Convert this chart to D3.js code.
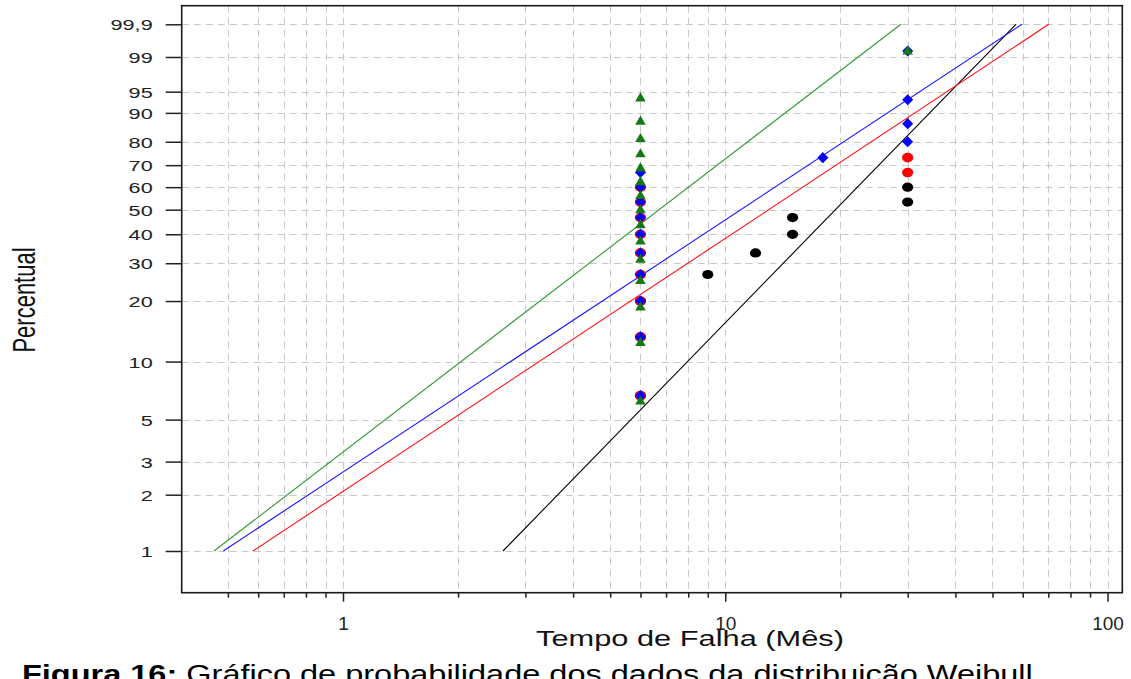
<!DOCTYPE html>
<html>
<head>
<meta charset="utf-8">
<script src="https://cdn.jsdelivr.net/npm/d3@7"></script>
<style>
  html, body { margin: 0; padding: 0; background: #fff; overflow: hidden; }
  svg { display: block; font-family: "Liberation Sans", Arial, sans-serif; }
</style>
</head>
<body>
<svg id="chart" width="1131" height="679"></svg>
<script>
// ---------------- data ----------------
const xTickValues = [0.5,0.6,0.7,0.8,0.9,1,2,3,4,5,6,7,8,9,10,20,30,40,50,60,70,80,90,100];
const xMajorTicks = [1, 10, 100];
const xTickLabels = ["1", "10", "100"];
const yTickValues = [1,2,3,5,10,20,30,40,50,60,70,80,90,95,99,99.9];
const yTickLabels = ["1","2","3","5","10","20","30","40","50","60","70","80","90","95","99","99,9"];

// black series (circles)
const blackTimes = [6, 6, 6, 9, 12, 15, 15, 30, 30];
const blackPct   = [6.67, 13.33, 20, 26.67, 33.33, 40, 46.67, 53.33, 60];
// red series (circles)
const redTimes = [6, 6, 6, 6, 6, 6, 6, 6, 6, 30, 30];
const redPct   = [6.67, 13.33, 20, 26.67, 33.33, 40, 46.67, 53.33, 60, 66.67, 73.33];
// blue series (diamonds)
const blueTimes = [6, 6, 6, 6, 6, 6, 6, 6, 6, 6, 18, 30, 30, 30, 30];
const bluePct   = [6.67, 13.33, 20, 26.67, 33.33, 40, 46.67, 53.33, 60, 66.67, 73.33, 80, 86.67, 93.33, 99.3];
// green series (triangles)
const greenTimes = [6, 6, 6, 6, 6, 6, 6, 6, 6, 6, 6, 6, 6, 6, 6, 30];
const greenPct   = [6.25, 12.5, 18.75, 25, 31.25, 37.5, 43.75, 50, 56.25, 62.5, 68.75, 75, 81.25, 87.5, 93.75, 99.3];

// fitted lines: time at start and end, percentile at start and end
const linePct = [1, 99.9];
const greenLineTimes = [0.4598, 28.8];
const blueLineTimes  = [0.4862, 59.7];
const redLineTimes   = [0.5814, 70.2];
const blackLineTimes = [2.622, 57.6];

// ---------------- layout ----------------
const svg = d3.select("#chart");
const L = 181.7, R = 1122.3, T = 5.7, B = 592.7;
const weib = p => Math.log(-Math.log(1 - p / 100));

const x = d3.scaleLog().domain([0.3785, 109.3]).range([L, R]);
const y = d3.scaleLinear().domain([2.1634, -5.1174]).range([T, B]);

// grid
const grid = svg.append("g").attr("stroke", "#c8c8c8").attr("stroke-width", 1)
  .attr("stroke-dasharray", "7,5").attr("fill", "none");
grid.selectAll("line.v").data(xTickValues).join("line")
  .attr("x1", d => Math.round(x(d)) + 0.5).attr("x2", d => Math.round(x(d)) + 0.5)
  .attr("y1", T).attr("y2", B);
grid.selectAll("line.h").data(yTickValues).join("line")
  .attr("y1", d => Math.round(y(weib(d))) + 0.5).attr("y2", d => Math.round(y(weib(d))) + 0.5)
  .attr("x1", L).attr("x2", R);

// axes
const yAxis = d3.axisLeft(y)
  .tickValues(yTickValues.map(weib))
  .tickFormat((d, i) => yTickLabels[i])
  .tickSize(16).tickSizeOuter(0);
const gy = svg.append("g").attr("transform", `translate(${L},0)`).call(yAxis);
gy.select(".domain").remove();
gy.selectAll(".tick line").attr("stroke", "#222").attr("stroke-width", 1.5);
gy.selectAll(".tick text")
  .attr("x", 0).attr("dy", "0.36em")
  .attr("transform", "translate(-29,0) scale(1.4,1)")
  .attr("fill", "#222").style("font-size", "15.5px")
  .style("font-family", "'Liberation Sans', Arial, sans-serif");

const xAxis = d3.axisBottom(x)
  .tickValues(xTickValues)
  .tickFormat(d => { const i = xMajorTicks.indexOf(d); return i >= 0 ? xTickLabels[i] : ""; })
  .tickSize(5).tickSizeOuter(0);
const gx = svg.append("g").attr("transform", `translate(0,${B})`).call(xAxis);
gx.select(".domain").remove();
gx.selectAll(".tick line").attr("stroke", "#222").attr("stroke-width", 1.5)
  .attr("y2", d => xMajorTicks.includes(d) ? 9 : 5);
gx.selectAll(".tick text")
  .attr("y", 0).attr("dy", null)
  .attr("transform", "translate(0,37)")
  .attr("fill", "#222").style("font-size", "19px")
  .style("font-family", "'Liberation Sans', Arial, sans-serif");

// frame
svg.append("rect").attr("x", L).attr("y", T).attr("width", R - L).attr("height", B - T)
  .attr("fill", "none").attr("stroke", "#1a1a1a").attr("stroke-width", 1.6);

// fitted lines
const lineGen = d3.line().x(d => x(d[0])).y(d => y(weib(d[1])));
const lines = [
  {t: blackLineTimes, c: "#000000"},
  {t: redLineTimes, c: "#ff1010"},
  {t: blueLineTimes, c: "#1414ff"},
  {t: greenLineTimes, c: "#2f9a2f"}
];
lines.forEach(s => {
  svg.append("path").datum(s.t.map((t, i) => [t, linePct[i]]))
    .attr("d", lineGen).attr("fill", "none").attr("stroke", s.c).attr("stroke-width", 1.1);
});

// points
function pts(times, pct) { return times.map((t, i) => [t, pct[i]]); }
svg.append("g").selectAll("ellipse").data(pts(blackTimes, blackPct)).join("ellipse")
  .attr("cx", d => x(d[0])).attr("cy", d => y(weib(d[1])))
  .attr("rx", 5.6).attr("ry", 4.6).attr("fill", "#000");
svg.append("g").selectAll("ellipse").data(pts(redTimes, redPct)).join("ellipse")
  .attr("cx", d => x(d[0])).attr("cy", d => y(weib(d[1])))
  .attr("rx", 5.6).attr("ry", 4.8).attr("fill", "#ff0000");
const diamond = d3.symbol().type(d3.symbolDiamond2).size(78);
svg.append("g").selectAll("path").data(pts(blueTimes, bluePct)).join("path")
  .attr("transform", d => `translate(${x(d[0])},${y(weib(d[1]))})`)
  .attr("d", diamond).attr("fill", "#0000ff");
const tri = d3.symbol().type(d3.symbolTriangle).size(48);
svg.append("g").selectAll("path").data(pts(greenTimes, greenPct)).join("path")
  .attr("transform", d => `translate(${x(d[0])},${y(weib(d[1])) + 0.5})`)
  .attr("d", tri).attr("fill", "#157a15");

// axis titles
svg.append("text")
  .attr("transform", "translate(35,300) rotate(-90) scale(1,1.4)")
  .attr("text-anchor", "middle").attr("fill", "#111")
  .style("font-size", "22px").text("Percentual");

svg.append("text")
  .attr("transform", "translate(690,646) scale(1.4,1)")
  .attr("text-anchor", "middle").attr("fill", "#111")
  .style("font-size", "22px").text("Tempo de Falha (Mês)");

// figure caption (partly cut by the page edge, as in the original)
const cap = svg.append("text")
  .attr("transform", "translate(22,683) scale(1.3,1)")
  .attr("fill", "#000").style("font-size", "25px");
cap.append("tspan").attr("font-weight", "bold").text("Figura 16: ");
cap.append("tspan").text("Gráfico de probabilidade dos dados da distribuição Weibull");
</script>
</body>
</html>
